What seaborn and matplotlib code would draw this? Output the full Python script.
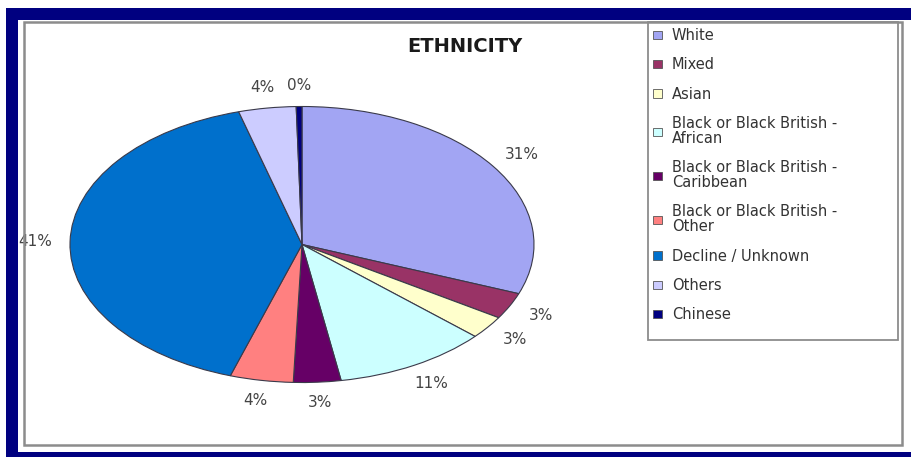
import matplotlib
matplotlib.use('Agg')
import matplotlib.pyplot as plt
from matplotlib.patches import Rectangle, Patch
import seaborn as sns

# data
groups = ['White', 'Mixed', 'Asian', 'Black or Black British -\nAfrican',
          'Black or Black British -\nCaribbean', 'Black or Black British -\nOther',
          'Decline / Unknown', 'Others', 'Chinese']
shares = [30.8, 3.1, 2.7, 10.7, 3.3, 4.4, 40.6, 4.0, 0.4]
slice_colors = ['#a2a5f3', '#993366', '#ffffcc', '#ccffff', '#660066',
                '#ff8080', '#0070cc', '#ccccff', '#000080']
title = 'ETHNICITY'

sns.set_theme(style='white')
plt.rcParams['font.family'] = ['DejaVu Sans']

W, H = 912, 457
fig = plt.figure(figsize=(W / 100, H / 100), dpi=100)
fig.patch.set_facecolor('white')


def box(x0, y0, x1, y1, **kw):
    # pixel box measured from top-left -> figure fraction rectangle
    r = Rectangle((x0 / W, 1 - y1 / H), (x1 - x0) / W, (y1 - y0) / H,
                  transform=fig.transFigure, **kw)
    fig.add_artist(r)
    return r


palette = sns.color_palette(slice_colors)

ax = fig.add_axes([12 / W, 40 / H, 580 / W, 345 / H])
wedges, texts, autotexts = ax.pie(
    shares, colors=palette, startangle=90, counterclock=False,
    autopct='%.0f%%', pctdistance=1.15,
    wedgeprops=dict(edgecolor='#3a3a4a', linewidth=0.8),
    textprops=dict(fontsize=11, color='#444444'))
ax.set_aspect('auto')
ax.set_xlim(-1.25, 1.25)
ax.set_ylim(-1.25, 1.25)
for t in autotexts:
    t.set_clip_on(False)

fig.text(465 / W, 1 - 46 / H, title, ha='center', va='center',
         fontsize=14, fontweight='bold', color='#1a1a1a')

# legend
handles = [Patch(facecolor=c, edgecolor='#555555', linewidth=0.6) for c in palette]
leg = fig.legend(handles, groups, loc='upper left',
                 bbox_to_anchor=(653 / W, 1 - 28 / H),
                 frameon=False, fontsize=10.5, labelspacing=0.98,
                 handlelength=0.6, handleheight=0.5, handletextpad=0.7,
                 borderaxespad=0, borderpad=0)
for t in leg.get_texts():
    t.set_color('#333333')
    t.set_linespacing(1.0)

# frame: navy band, panel border and legend box
navy = '#000080'
box(6, 8, W, 20, facecolor=navy, edgecolor='none', zorder=5)
box(6, 8, 18, H, facecolor=navy, edgecolor='none', zorder=5)
box(6, 452, W, H, facecolor=navy, edgecolor='none', zorder=5)
box(24, 22, 902, 445, facecolor='none', edgecolor='#8c8c8c', linewidth=1.8, zorder=4)
box(648, 22, 898, 340, facecolor='none', edgecolor='#8c8c8c', linewidth=1.3, zorder=4)

plt.savefig('out.png', dpi=100)
